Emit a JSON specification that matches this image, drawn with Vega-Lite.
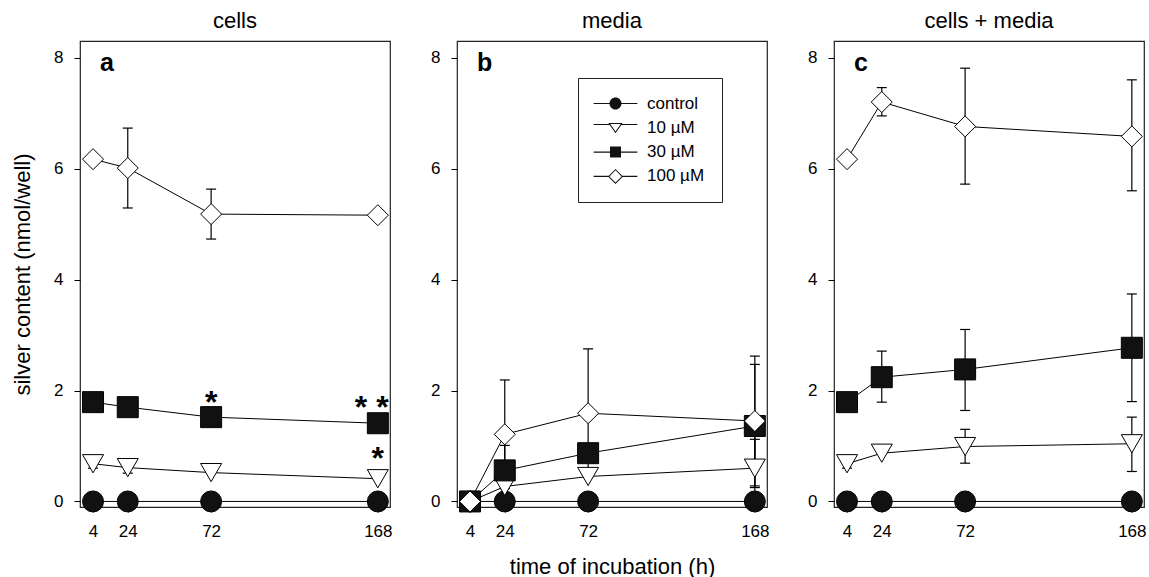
{
  "$schema": "https://vega.github.io/schema/vega-lite/v6.json",
  "background": "white",
  "padding": {"left": 10, "top": 9, "right": 5, "bottom": 0},
  "config": {
    "font": "Liberation Sans",
    "view": {"stroke": "#222", "strokeWidth": 1.2},
    "axis": {"labelFontSize": 17, "titleFontSize": 22, "titleFontWeight": "normal", "labelColor": "black", "titleColor": "black", "tickColor": "black", "domain": false, "grid": false, "labelFlush": false, "labelOverlap": false},
    "title": {"fontSize": 22, "fontWeight": "normal", "color": "black", "offset": 8}
  },
  "datasets": {
    "pts": [
      {"p": "a", "g": "control", "t": 4, "v": 0},
      {"p": "a", "g": "control", "t": 24, "v": 0},
      {"p": "a", "g": "control", "t": 72, "v": 0},
      {"p": "a", "g": "control", "t": 168, "v": 0},
      {"p": "a", "g": "10 µM", "t": 4, "v": 0.68, "lo": 0.6, "hi": 0.76},
      {"p": "a", "g": "10 µM", "t": 24, "v": 0.61, "lo": 0.51, "hi": 0.71},
      {"p": "a", "g": "10 µM", "t": 72, "v": 0.52},
      {"p": "a", "g": "10 µM", "t": 168, "v": 0.41},
      {"p": "a", "g": "30 µM", "t": 4, "v": 1.79},
      {"p": "a", "g": "30 µM", "t": 24, "v": 1.7},
      {"p": "a", "g": "30 µM", "t": 72, "v": 1.52},
      {"p": "a", "g": "30 µM", "t": 168, "v": 1.41},
      {"p": "a", "g": "100 µM", "t": 4, "v": 6.17},
      {"p": "a", "g": "100 µM", "t": 24, "v": 6.01, "lo": 5.29, "hi": 6.73},
      {"p": "a", "g": "100 µM", "t": 72, "v": 5.18, "lo": 4.73, "hi": 5.63},
      {"p": "a", "g": "100 µM", "t": 168, "v": 5.16, "lo": 5.08, "hi": 5.24},
      {"p": "b", "g": "control", "t": 4, "v": 0},
      {"p": "b", "g": "control", "t": 24, "v": 0},
      {"p": "b", "g": "control", "t": 72, "v": 0},
      {"p": "b", "g": "control", "t": 168, "v": 0},
      {"p": "b", "g": "10 µM", "t": 4, "v": 0},
      {"p": "b", "g": "10 µM", "t": 24, "v": 0.27},
      {"p": "b", "g": "10 µM", "t": 72, "v": 0.45},
      {"p": "b", "g": "10 µM", "t": 168, "v": 0.6, "lo": 0.08, "hi": 1.12},
      {"p": "b", "g": "30 µM", "t": 4, "v": 0},
      {"p": "b", "g": "30 µM", "t": 24, "v": 0.56, "lo": 0.11, "hi": 1.01},
      {"p": "b", "g": "30 µM", "t": 72, "v": 0.87},
      {"p": "b", "g": "30 µM", "t": 168, "v": 1.36, "lo": 0.25, "hi": 2.47},
      {"p": "b", "g": "100 µM", "t": 4, "v": 0},
      {"p": "b", "g": "100 µM", "t": 24, "v": 1.21, "lo": 0.23, "hi": 2.19},
      {"p": "b", "g": "100 µM", "t": 72, "v": 1.59, "lo": 0.43, "hi": 2.75},
      {"p": "b", "g": "100 µM", "t": 168, "v": 1.45, "lo": 0.28, "hi": 2.62},
      {"p": "c", "g": "control", "t": 4, "v": 0},
      {"p": "c", "g": "control", "t": 24, "v": 0},
      {"p": "c", "g": "control", "t": 72, "v": 0},
      {"p": "c", "g": "control", "t": 168, "v": 0},
      {"p": "c", "g": "10 µM", "t": 4, "v": 0.68, "lo": 0.6, "hi": 0.76},
      {"p": "c", "g": "10 µM", "t": 24, "v": 0.87},
      {"p": "c", "g": "10 µM", "t": 72, "v": 0.99, "lo": 0.69, "hi": 1.3},
      {"p": "c", "g": "10 µM", "t": 168, "v": 1.04, "lo": 0.54, "hi": 1.52},
      {"p": "c", "g": "30 µM", "t": 4, "v": 1.79},
      {"p": "c", "g": "30 µM", "t": 24, "v": 2.24, "lo": 1.79, "hi": 2.71},
      {"p": "c", "g": "30 µM", "t": 72, "v": 2.38, "lo": 1.64, "hi": 3.1},
      {"p": "c", "g": "30 µM", "t": 168, "v": 2.77, "lo": 1.8, "hi": 3.74},
      {"p": "c", "g": "100 µM", "t": 4, "v": 6.17},
      {"p": "c", "g": "100 µM", "t": 24, "v": 7.2, "lo": 6.95, "hi": 7.46},
      {"p": "c", "g": "100 µM", "t": 72, "v": 6.76, "lo": 5.72, "hi": 7.81},
      {"p": "c", "g": "100 µM", "t": 168, "v": 6.58, "lo": 5.6, "hi": 7.6}
    ],
    "lbl": [
      {"p": "a", "t": 8, "v": 7.76, "s": "a"},
      {"p": "b", "t": 8, "v": 7.76, "s": "b"},
      {"p": "c", "t": 8, "v": 7.76, "s": "c"}
    ],
    "ast": [
      {"p": "a", "t": 72, "v": 1.6, "s": "*"},
      {"p": "a", "t": 164.5, "v": 1.5, "s": "* *"},
      {"p": "a", "t": 168, "v": 0.58, "s": "*"}
    ]
  },
  "spacing": 67,
  "bounds": "flush",
  "resolve": {"scale": {"shape": "independent", "fill": "independent", "size": "independent"}},
  "hconcat": [
    {
      "width": 310, "height": 466,
      "title": {"text": "cells"},
      "layer": [
        {"data": {"name": "pts"}, "transform": [{"filter": "datum.p === 'a'"}],
         "mark": {"type": "line", "color": "black", "strokeWidth": 1},
         "encoding": {
           "x": {"field": "t", "type": "quantitative", "scale": {"domain": [-3.5, 175], "nice": false, "zero": false}, "axis": {"values": [4, 24, 72, 168], "format": "d", "title": null, "tickSize": 5, "labelPadding": 11}},
           "y": {"field": "v", "type": "quantitative", "scale": {"domain": [-0.1, 8.3], "nice": false, "zero": false}, "axis": {"values": [0, 2, 4, 6, 8], "format": "d", "title": "silver content (nmol/well)", "tickSize": 6, "labelPadding": 11, "titlePadding": 19}},
           "detail": {"field": "g"}}},
        {"data": {"name": "pts"}, "transform": [{"filter": "datum.p === 'a' && isValid(datum.lo)"}],
         "mark": {"type": "rule", "color": "black", "strokeWidth": 1.2},
         "encoding": {"x": {"field": "t", "type": "quantitative"}, "y": {"field": "lo", "type": "quantitative"}, "y2": {"field": "hi"}}},
        {"data": {"name": "pts"}, "transform": [{"filter": "datum.p === 'a' && isValid(datum.lo)"}],
         "mark": {"type": "tick", "orient": "horizontal", "size": 10, "thickness": 1.2, "color": "black", "opacity": 1},
         "encoding": {"x": {"field": "t", "type": "quantitative"}, "y": {"field": "lo", "type": "quantitative"}}},
        {"data": {"name": "pts"}, "transform": [{"filter": "datum.p === 'a' && isValid(datum.hi)"}],
         "mark": {"type": "tick", "orient": "horizontal", "size": 10, "thickness": 1.2, "color": "black", "opacity": 1},
         "encoding": {"x": {"field": "t", "type": "quantitative"}, "y": {"field": "hi", "type": "quantitative"}}},
        {"data": {"name": "pts"}, "transform": [{"filter": "datum.p === 'a'"}],
         "mark": {"type": "point", "filled": true, "stroke": "black", "strokeWidth": 1, "opacity": 1},
         "encoding": {
           "x": {"field": "t", "type": "quantitative"},
           "y": {"field": "v", "type": "quantitative"},
           "shape": {"field": "g", "type": "nominal", "scale": {"domain": ["control", "10 µM", "30 µM", "100 µM"], "range": ["circle", "triangle-down", "square", "diamond"]}, "legend": null},
           "fill": {"field": "g", "type": "nominal", "scale": {"domain": ["control", "10 µM", "30 µM", "100 µM"], "range": ["#111111", "#ffffff", "#111111", "#ffffff"]}, "legend": null},
           "size": {"field": "g", "type": "nominal", "scale": {"domain": ["control", "10 µM", "30 µM", "100 µM"], "range": [441, 441, 400, 576]}, "legend": null}}},
        {"data": {"name": "lbl"}, "transform": [{"filter": "datum.p === 'a'"}],
         "mark": {"type": "text", "fontWeight": "bold", "fontSize": 25, "align": "left", "baseline": "alphabetic", "color": "black"},
         "encoding": {"x": {"field": "t", "type": "quantitative"}, "y": {"field": "v", "type": "quantitative"}, "text": {"field": "s"}}},
        {"data": {"name": "ast"}, "transform": [{"filter": "datum.p === 'a'"}],
         "mark": {"type": "text", "fontWeight": "bold", "fontSize": 32, "align": "center", "baseline": "alphabetic", "color": "black"},
         "encoding": {"x": {"field": "t", "type": "quantitative"}, "y": {"field": "v", "type": "quantitative"}, "text": {"field": "s"}}}
      ]
    },
    {
      "width": 310, "height": 466,
      "title": {"text": "media"},
      "resolve": {"scale": {"shape": "independent", "fill": "independent"}},
      "layer": [
        {"data": {"name": "pts"}, "transform": [{"filter": "datum.p === 'b'"}],
         "mark": {"type": "line", "color": "black", "strokeWidth": 1},
         "encoding": {
           "x": {"field": "t", "type": "quantitative", "scale": {"domain": [-3.5, 175], "nice": false, "zero": false}, "axis": {"values": [4, 24, 72, 168], "format": "d", "title": "time of incubation (h)", "tickSize": 5, "labelPadding": 11, "titlePadding": 17}},
           "y": {"field": "v", "type": "quantitative", "scale": {"domain": [-0.1, 8.3], "nice": false, "zero": false}, "axis": {"values": [0, 2, 4, 6, 8], "format": "d", "title": null, "tickSize": 6, "labelPadding": 11}},
           "detail": {"field": "g"}}},
        {"data": {"name": "pts"}, "transform": [{"filter": "datum.p === 'b' && isValid(datum.lo)"}],
         "mark": {"type": "rule", "color": "black", "strokeWidth": 1.2},
         "encoding": {"x": {"field": "t", "type": "quantitative"}, "y": {"field": "lo", "type": "quantitative"}, "y2": {"field": "hi"}}},
        {"data": {"name": "pts"}, "transform": [{"filter": "datum.p === 'b' && isValid(datum.lo)"}],
         "mark": {"type": "tick", "orient": "horizontal", "size": 10, "thickness": 1.2, "color": "black", "opacity": 1},
         "encoding": {"x": {"field": "t", "type": "quantitative"}, "y": {"field": "lo", "type": "quantitative"}}},
        {"data": {"name": "pts"}, "transform": [{"filter": "datum.p === 'b' && isValid(datum.hi)"}],
         "mark": {"type": "tick", "orient": "horizontal", "size": 10, "thickness": 1.2, "color": "black", "opacity": 1},
         "encoding": {"x": {"field": "t", "type": "quantitative"}, "y": {"field": "hi", "type": "quantitative"}}},
        {"data": {"name": "pts"}, "transform": [{"filter": "datum.p === 'b'"}],
         "mark": {"type": "point", "filled": true, "stroke": "black", "strokeWidth": 1, "opacity": 1},
         "encoding": {
           "x": {"field": "t", "type": "quantitative"},
           "y": {"field": "v", "type": "quantitative"},
           "shape": {"field": "g", "type": "nominal", "scale": {"domain": ["control", "10 µM", "30 µM", "100 µM"], "range": ["circle", "triangle-down", "square", "diamond"]}, "legend": null},
           "fill": {"field": "g", "type": "nominal", "scale": {"domain": ["control", "10 µM", "30 µM", "100 µM"], "range": ["#111111", "#ffffff", "#111111", "#ffffff"]}, "legend": null},
           "size": {"field": "g", "type": "nominal", "scale": {"domain": ["control", "10 µM", "30 µM", "100 µM"], "range": [441, 441, 400, 576]}, "legend": null}}},
        {"data": {"name": "pts"}, "transform": [{"filter": "false"}],
         "mark": {"type": "point", "filled": true, "opacity": 1},
         "encoding": {
           "x": {"field": "t", "type": "quantitative"},
           "y": {"field": "v", "type": "quantitative"},
           "shape": {"field": "g", "type": "nominal", "scale": {"domain": ["control", "10 µM", "30 µM", "100 µM"], "range": ["M-3.65,-0.09H-0.9V0.09H-3.65ZM0.9,-0.09H3.65V0.09H0.9ZM1,0A1,1,0,1,1,-1,0A1,1,0,1,1,1,0Z", "M-3.65,-0.64H-0.95V-0.46H-3.65ZM0.95,-0.64H3.65V-0.46H0.95ZM-1.2,-0.8L1.2,-0.8L0,0.9ZM-0.87,-0.63L0,0.61L0.87,-0.63Z", "M-3.65,-0.09H-0.9V0.09H-3.65ZM0.9,-0.09H3.65V0.09H0.9ZM-0.92,-0.92H0.92V0.92H-0.92Z", "M-3.65,-0.09H-1.15V0.09H-3.65ZM1.15,-0.09H3.65V0.09H1.15ZM-1.25,0L0,-1.25L1.25,0L0,1.25ZM-1.01,0L0,1.01L1.01,0L0,-1.01Z"]},
             "legend": {"orient": "none", "legendX": 121, "legendY": 37, "title": null, "padding": 17, "strokeColor": "#222", "fillColor": "white", "symbolSize": 144, "symbolStrokeWidth": 0, "symbolOpacity": 1, "symbolOffset": 12, "labelFontSize": 17, "labelColor": "black", "labelOffset": 23, "rowPadding": 6.3}},
           "fill": {"field": "g", "type": "nominal", "scale": {"domain": ["control", "10 µM", "30 µM", "100 µM"], "range": ["#111111", "#111111", "#111111", "#111111"]},
             "legend": {"orient": "none", "legendX": 121, "legendY": 37, "title": null, "padding": 17, "strokeColor": "#222", "fillColor": "white", "symbolSize": 144, "symbolStrokeWidth": 0, "symbolOpacity": 1, "symbolOffset": 12, "labelFontSize": 17, "labelColor": "black", "labelOffset": 23, "rowPadding": 6.3}}}},
        {"data": {"name": "lbl"}, "transform": [{"filter": "datum.p === 'b'"}],
         "mark": {"type": "text", "fontWeight": "bold", "fontSize": 25, "align": "left", "baseline": "alphabetic", "color": "black"},
         "encoding": {"x": {"field": "t", "type": "quantitative"}, "y": {"field": "v", "type": "quantitative"}, "text": {"field": "s"}}}
      ]
    },
    {
      "width": 310, "height": 466,
      "title": {"text": "cells + media"},
      "layer": [
        {"data": {"name": "pts"}, "transform": [{"filter": "datum.p === 'c'"}],
         "mark": {"type": "line", "color": "black", "strokeWidth": 1},
         "encoding": {
           "x": {"field": "t", "type": "quantitative", "scale": {"domain": [-3.5, 175], "nice": false, "zero": false}, "axis": {"values": [4, 24, 72, 168], "format": "d", "title": null, "tickSize": 5, "labelPadding": 11}},
           "y": {"field": "v", "type": "quantitative", "scale": {"domain": [-0.1, 8.3], "nice": false, "zero": false}, "axis": {"values": [0, 2, 4, 6, 8], "format": "d", "title": null, "tickSize": 6, "labelPadding": 11}},
           "detail": {"field": "g"}}},
        {"data": {"name": "pts"}, "transform": [{"filter": "datum.p === 'c' && isValid(datum.lo)"}],
         "mark": {"type": "rule", "color": "black", "strokeWidth": 1.2},
         "encoding": {"x": {"field": "t", "type": "quantitative"}, "y": {"field": "lo", "type": "quantitative"}, "y2": {"field": "hi"}}},
        {"data": {"name": "pts"}, "transform": [{"filter": "datum.p === 'c' && isValid(datum.lo)"}],
         "mark": {"type": "tick", "orient": "horizontal", "size": 10, "thickness": 1.2, "color": "black", "opacity": 1},
         "encoding": {"x": {"field": "t", "type": "quantitative"}, "y": {"field": "lo", "type": "quantitative"}}},
        {"data": {"name": "pts"}, "transform": [{"filter": "datum.p === 'c' && isValid(datum.hi)"}],
         "mark": {"type": "tick", "orient": "horizontal", "size": 10, "thickness": 1.2, "color": "black", "opacity": 1},
         "encoding": {"x": {"field": "t", "type": "quantitative"}, "y": {"field": "hi", "type": "quantitative"}}},
        {"data": {"name": "pts"}, "transform": [{"filter": "datum.p === 'c'"}],
         "mark": {"type": "point", "filled": true, "stroke": "black", "strokeWidth": 1, "opacity": 1},
         "encoding": {
           "x": {"field": "t", "type": "quantitative"},
           "y": {"field": "v", "type": "quantitative"},
           "shape": {"field": "g", "type": "nominal", "scale": {"domain": ["control", "10 µM", "30 µM", "100 µM"], "range": ["circle", "triangle-down", "square", "diamond"]}, "legend": null},
           "fill": {"field": "g", "type": "nominal", "scale": {"domain": ["control", "10 µM", "30 µM", "100 µM"], "range": ["#111111", "#ffffff", "#111111", "#ffffff"]}, "legend": null},
           "size": {"field": "g", "type": "nominal", "scale": {"domain": ["control", "10 µM", "30 µM", "100 µM"], "range": [441, 441, 400, 576]}, "legend": null}}},
        {"data": {"name": "lbl"}, "transform": [{"filter": "datum.p === 'c'"}],
         "mark": {"type": "text", "fontWeight": "bold", "fontSize": 25, "align": "left", "baseline": "alphabetic", "color": "black"},
         "encoding": {"x": {"field": "t", "type": "quantitative"}, "y": {"field": "v", "type": "quantitative"}, "text": {"field": "s"}}}
      ]
    }
  ]
}
